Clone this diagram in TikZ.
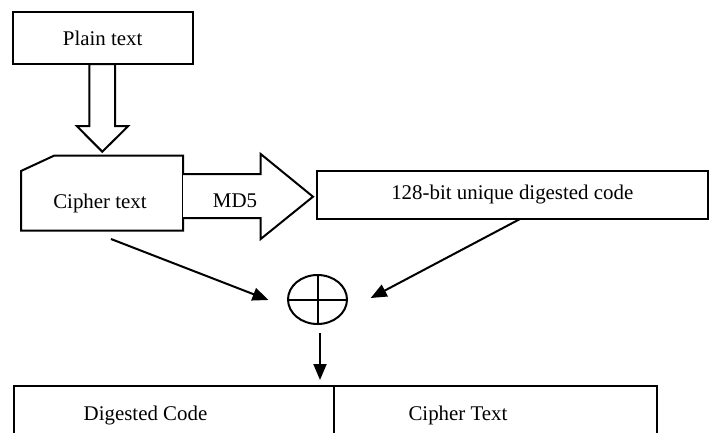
\documentclass[tikz,border=0pt]{standalone}
\usepackage{fontspec}
\setmainfont{Liberation Serif}
\usetikzlibrary{arrows.meta,shapes.geometric}
\tikzset{
  box/.style={draw=black, line width=2pt, rectangle, inner sep=0pt},
  label/.style={inner sep=0pt, anchor=center},
  conn/.style={line width=2pt, -{Triangle[length=16pt,width=13pt]}},
  blockarrow/.style={draw=black, line width=2pt, fill=white, line join=miter},
}
\begin{document}
\begin{tikzpicture}[x=1pt,y=-1pt, font=\fontsize{20.9}{24}\selectfont]
\useasboundingbox (0,0) rectangle (716,432);
\clip (0,0) rectangle (716,432);
% Plain text box
\node[box, minimum width=180pt, minimum height=51.7pt] (plain) at (102.7,38.2) {Plain text};
% down block arrow
\draw[blockarrow] (89.3,64) -- (89.3,126) -- (76.7,126) -- (102.3,151.7) -- (128.3,126) -- (115,126) -- (115,64) -- cycle;
% Cipher text shape
\draw[line width=2pt, line join=miter] (21,171) -- (54,155.7) -- (183,155.7) -- (183,230.7) -- (21,230.7) -- cycle;
\node[label] (cipher) at (100,203) {Cipher text};
% MD5 block arrow
\draw[blockarrow] (183,174) -- (260.7,174) -- (260.7,154) -- (313,196.7) -- (260.7,239) -- (260.7,218) -- (183,218);
\node[label] (md5) at (235,200.7) {MD5};
% 128-bit box
\node[box, minimum width=391.3pt, minimum height=48.3pt] (digest) at (512.3,194.8) {128-bit unique digested code};
% XOR ellipse
\node[draw, line width=2pt, ellipse, minimum width=59pt, minimum height=49pt, inner sep=0pt] (xor) at (317.5,299.5) {};
\draw[line width=2pt] (xor.north) -- (xor.south) (xor.west) -- (xor.east);
% connector coordinates
\coordinate (c1) at (111,239);
\coordinate (t1) at (268.5,300);
\coordinate (c2) at (520,219);
\coordinate (t2) at (370.7,298);
\coordinate (c3) at (320,333);
\coordinate (t3) at (320,380);
\draw[conn] (c1) -- (t1);
\draw[conn] (c2) -- (t2);
\draw[conn] (c3) -- (t3);
% bottom table
\draw[line width=2pt] (14,450) -- (14,385.7) -- (657,385.7) -- (657,450);
\draw[line width=1.3pt] (334,385.7) -- (334,450);
\node[label] (dcode) at (145.5,415) {Digested Code};
\node[label] (ctext) at (458,415) {Cipher Text};
\end{tikzpicture}
\end{document}
